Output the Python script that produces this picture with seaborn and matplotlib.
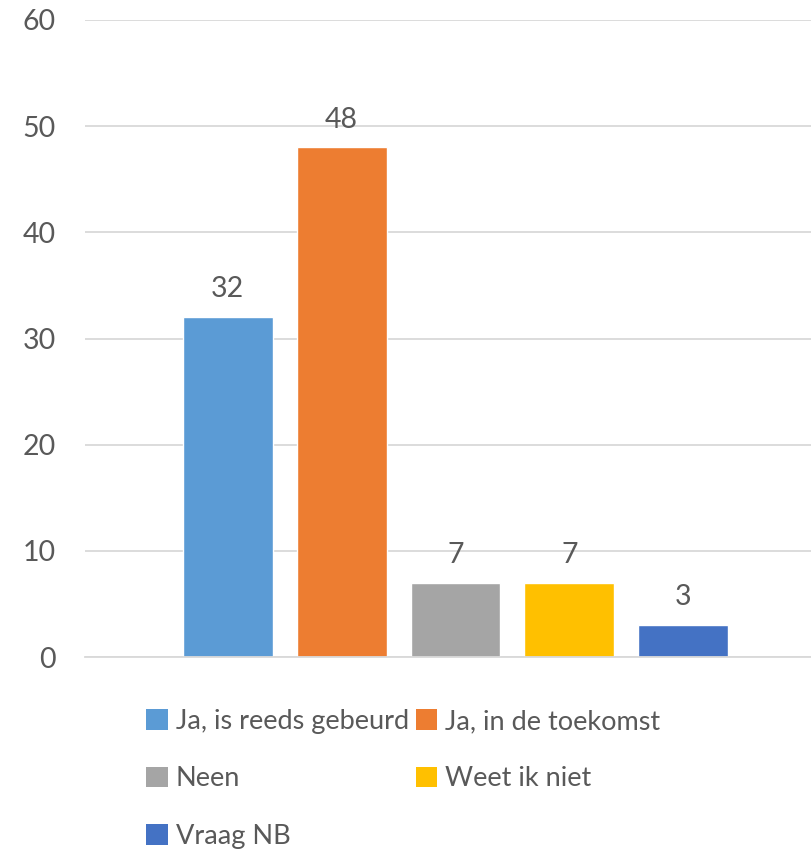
import matplotlib
matplotlib.use("Agg")
import matplotlib.pyplot as plt
import seaborn as sns
import pandas as pd
from matplotlib.patches import Patch

categories = ["Ja, is reeds gebeurd", "Ja, in de toekomst", "Neen", "Weet ik niet", "Vraag NB"]
values = [32, 48, 7, 7, 3]
colors = ["#5B9BD5", "#ED7D31", "#A5A5A5", "#FFC000", "#4472C4"]
yticks = [0, 10, 20, 30, 40, 50, 60]

sns.set_theme(style="white")
plt.rcParams["font.family"] = ["Lato", "DejaVu Sans"]
TXT = "#595959"
FS = 20.5
LFS = 19.5

W, H = 811, 849
fig = plt.figure(figsize=(W / 100, H / 100), dpi=100)
ax = fig.add_axes([85 / W, 1 - 657 / H, (811 - 85) / W, (657 - 20) / H])

df = pd.DataFrame({"cat": categories, "val": values})
sns.barplot(data=df, x="cat", y="val", hue="cat", order=categories, hue_order=categories,
            palette=colors, width=90 / 114, dodge=False, legend=False, ax=ax, saturation=1)

ax.set_xlim(-(228 - 85) / 114, 4 + (811 - 683) / 114)
ax.set_ylim(0, 60)
ax.set_yticks(yticks)
ax.set_yticklabels([str(t) for t in yticks], fontsize=FS, color=TXT)
ax.tick_params(axis="y", length=0, pad=21)
ax.set_xticks([])
ax.set_xlabel("")
ax.set_ylabel("")
ax.yaxis.grid(True, color="#D9D9D9", linewidth=1.3)
ax.set_axisbelow(True)
for s in ["top", "right", "left"]:
    ax.spines[s].set_visible(False)
ax.spines["bottom"].set_color("#D9D9D9")
ax.spines["bottom"].set_linewidth(1.3)

for i, v in enumerate(values):
    ax.text(i, v + 1.4, str(v), ha="center", va="bottom", fontsize=FS, color=TXT)

handles = [Patch(facecolor=c, edgecolor="none") for c in colors]
order = [0, 2, 4, 1, 3]
leg = fig.legend([handles[i] for i in order], [categories[i] for i in order],
                 ncol=2, loc="upper left",
                 bbox_to_anchor=(146 / W, 1 - 709 / H), frameon=False,
                 fontsize=LFS, labelcolor=TXT, handlelength=0.8, handleheight=0.8,
                 handletextpad=0.3, columnspacing=0.25, labelspacing=1.2,
                 borderpad=0, borderaxespad=0)

fig.savefig("out.png", dpi=100)
